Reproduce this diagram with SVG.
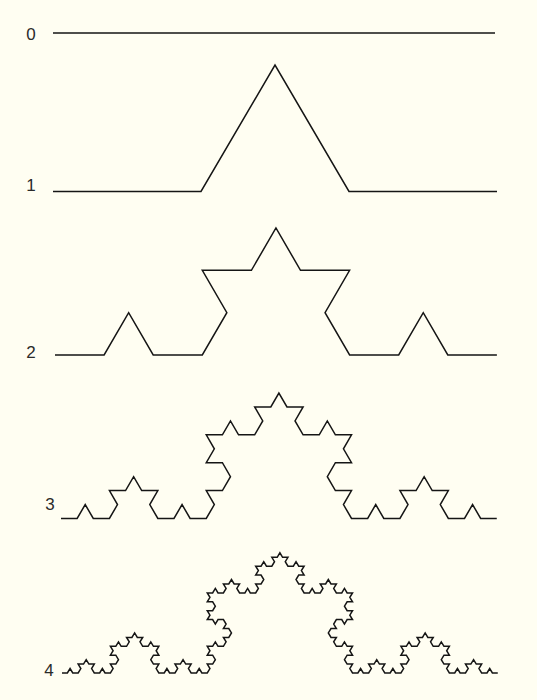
<svg xmlns="http://www.w3.org/2000/svg" width="537" height="700" viewBox="0 0 537 700">
<style>
.k{fill:none;stroke:#151515;stroke-width:1.5;stroke-linejoin:miter;stroke-linecap:butt;vector-effect:non-scaling-stroke}
.lbl{font-family:"Liberation Sans",Arial,sans-serif;font-size:17px;fill:#2a2a2a;text-anchor:middle}
</style>
<rect width="537" height="700" fill="#fffef2"/>
<g id="level0">
<text class="lbl" x="31" y="40">0</text>
<path class="k" d="M53 33H495"/>
</g>
<g id="level1">
<text class="lbl" x="31" y="191">1</text>
<path class="k" transform="translate(53,191.5) scale(74,73)" d="M0 0l2 0 1 -1.732 1 1.732 2 0"/>
</g>
<g id="level2">
<text class="lbl" x="31" y="358">2</text>
<path class="k" transform="translate(55,355) scale(24.55,24.45)" d="M0 0l2 0 1 -1.732 1 1.732 2 0 1 -1.732 -1 -1.732 2 0 1 -1.732 1 1.732 2 0 -1 1.732 1 1.732 2 0 1 -1.732 1 1.732 2 0"/>
</g>
<g id="level3">
<text class="lbl" x="50" y="510">3</text>
<path class="k" transform="translate(61,518.5) scale(8.07,8.05)" d="M0 0l
2 0 1 -1.732 1 1.732 2 0 1 -1.732 -1 -1.732 2 0 1 -1.732 1 1.732 2 0 -1 1.732 1 1.732 2 0 1 -1.732 1 1.732 2 0
1 -1.732 -1 -1.732 2 0 1 -1.732 -1 -1.732 -2 0 1 -1.732 -1 -1.732 2 0 1 -1.732 1 1.732 2 0 1 -1.732 -1 -1.732 2 0 1 -1.732
1 1.732 2 0 -1 1.732 1 1.732 2 0 1 -1.732 1 1.732 2 0 -1 1.732 1 1.732 -2 0 -1 1.732 1 1.732 2 0 -1 1.732 1 1.732
2 0 1 -1.732 1 1.732 2 0 1 -1.732 -1 -1.732 2 0 1 -1.732 1 1.732 2 0 -1 1.732 1 1.732 2 0 1 -1.732 1 1.732 2 0"/>
</g>
<g id="level4">
<text class="lbl" x="49" y="676">4</text>
<path class="k" transform="translate(62,673) scale(2.69,2.57)" d="M0 0l
2 0 1 -1.732 1 1.732 2 0 1 -1.732 -1 -1.732 2 0 1 -1.732 1 1.732 2 0 -1 1.732 1 1.732 2 0 1 -1.732 1 1.732 2 0
1 -1.732 -1 -1.732 2 0 1 -1.732 -1 -1.732 -2 0 1 -1.732 -1 -1.732 2 0 1 -1.732 1 1.732 2 0 1 -1.732 -1 -1.732 2 0 1 -1.732
1 1.732 2 0 -1 1.732 1 1.732 2 0 1 -1.732 1 1.732 2 0 -1 1.732 1 1.732 -2 0 -1 1.732 1 1.732 2 0 -1 1.732 1 1.732
2 0 1 -1.732 1 1.732 2 0 1 -1.732 -1 -1.732 2 0 1 -1.732 1 1.732 2 0 -1 1.732 1 1.732 2 0 1 -1.732 1 1.732 2 0
1 -1.732 -1 -1.732 2 0 1 -1.732 -1 -1.732 -2 0 1 -1.732 -1 -1.732 2 0 1 -1.732 1 1.732 2 0 1 -1.732 -1 -1.732 2 0 1 -1.732
-1 -1.732 -2 0 1 -1.732 -1 -1.732 -2 0 -1 1.732 -1 -1.732 -2 0 1 -1.732 -1 -1.732 2 0 1 -1.732 -1 -1.732 -2 0 1 -1.732 -1 -1.732
2 0 1 -1.732 1 1.732 2 0 1 -1.732 -1 -1.732 2 0 1 -1.732 1 1.732 2 0 -1 1.732 1 1.732 2 0 1 -1.732 1 1.732 2 0
1 -1.732 -1 -1.732 2 0 1 -1.732 -1 -1.732 -2 0 1 -1.732 -1 -1.732 2 0 1 -1.732 1 1.732 2 0 1 -1.732 -1 -1.732 2 0 1 -1.732
1 1.732 2 0 -1 1.732 1 1.732 2 0 1 -1.732 1 1.732 2 0 -1 1.732 1 1.732 -2 0 -1 1.732 1 1.732 2 0 -1 1.732 1 1.732
2 0 1 -1.732 1 1.732 2 0 1 -1.732 -1 -1.732 2 0 1 -1.732 1 1.732 2 0 -1 1.732 1 1.732 2 0 1 -1.732 1 1.732 2 0
-1 1.732 1 1.732 -2 0 -1 1.732 1 1.732 2 0 -1 1.732 1 1.732 -2 0 -1 1.732 -1 -1.732 -2 0 -1 1.732 1 1.732 -2 0 -1 1.732
1 1.732 2 0 -1 1.732 1 1.732 2 0 1 -1.732 1 1.732 2 0 -1 1.732 1 1.732 -2 0 -1 1.732 1 1.732 2 0 -1 1.732 1 1.732
2 0 1 -1.732 1 1.732 2 0 1 -1.732 -1 -1.732 2 0 1 -1.732 1 1.732 2 0 -1 1.732 1 1.732 2 0 1 -1.732 1 1.732 2 0
1 -1.732 -1 -1.732 2 0 1 -1.732 -1 -1.732 -2 0 1 -1.732 -1 -1.732 2 0 1 -1.732 1 1.732 2 0 1 -1.732 -1 -1.732 2 0 1 -1.732
1 1.732 2 0 -1 1.732 1 1.732 2 0 1 -1.732 1 1.732 2 0 -1 1.732 1 1.732 -2 0 -1 1.732 1 1.732 2 0 -1 1.732 1 1.732
2 0 1 -1.732 1 1.732 2 0 1 -1.732 -1 -1.732 2 0 1 -1.732 1 1.732 2 0 -1 1.732 1 1.732 2 0 1 -1.732 1 1.732 2 0"/>
</g>
</svg>
